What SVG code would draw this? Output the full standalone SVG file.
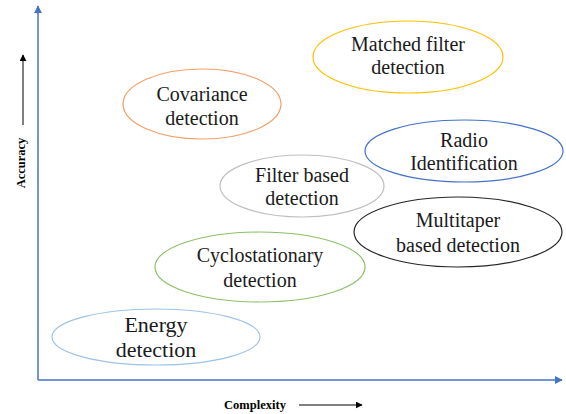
<svg xmlns="http://www.w3.org/2000/svg" width="566" height="414" viewBox="0 0 566 414">
<style>
.n{fill:#fff;stroke-width:1.2}
.t{font-family:"Liberation Serif","Times New Roman",serif;font-size:20px;fill:#1a1a1a;text-anchor:middle}
.ax{font-family:"Liberation Serif","Times New Roman",serif;font-size:12.5px;font-weight:bold;fill:#000}
</style>
<defs>
<marker id="ab" viewBox="0 0 10 10" refX="9" refY="5" markerWidth="8" markerHeight="8" markerUnits="userSpaceOnUse" orient="auto"><path d="M0,0 L10,5 L0,10 z" fill="#4472C4"/></marker>
<marker id="ak" viewBox="0 0 10 10" refX="9" refY="5" markerWidth="7" markerHeight="7" markerUnits="userSpaceOnUse" orient="auto"><path d="M0,0 L10,5 L0,10 z" fill="#000"/></marker>
</defs>
<rect width="566" height="414" fill="#fff"/>
<g id="connectors">
<path d="M38,380 L38,6" stroke="#4472C4" stroke-width="1.5" fill="none" marker-end="url(#ab)"/>
<path d="M38,380 L562,380" stroke="#4472C4" stroke-width="1.5" fill="none" marker-end="url(#ab)"/>
<path d="M23,125 L23,55" stroke="#000" stroke-width="1" fill="none" marker-end="url(#ak)"/>
<path d="M299,405 L362,405" stroke="#000" stroke-width="1" fill="none" marker-end="url(#ak)"/>
</g>
<g id="axis-labels">
<text class="ax" transform="translate(25,163) rotate(-90)" text-anchor="middle">Accuracy</text>
<text class="ax" x="255" y="409" text-anchor="middle">Complexity</text>
</g>
<g id="energy">
<ellipse class="n" cx="156" cy="337" rx="104" ry="28" stroke="#9DC3E6"/>
<text class="t" style="font-size:22px" x="156" y="332">Energy</text>
<text class="t" style="font-size:22px" x="156" y="357">detection</text>
</g>
<g id="cyclostationary">
<ellipse class="n" cx="260" cy="267" rx="105" ry="35" stroke="#8CC168"/>
<text class="t" x="260" y="262">Cyclostationary</text>
<text class="t" x="260" y="287">detection</text>
</g>
<g id="filter-based">
<ellipse class="n" cx="302" cy="186" rx="82" ry="31" stroke="#BFBFBF"/>
<text class="t" x="302" y="182">Filter based</text>
<text class="t" x="302" y="205">detection</text>
</g>
<g id="multitaper">
<ellipse class="n" cx="458" cy="232" rx="104" ry="35" stroke="#262626"/>
<text class="t" x="458" y="227">Multitaper</text>
<text class="t" x="458" y="252">based detection</text>
</g>
<g id="radio">
<ellipse class="n" cx="464" cy="151" rx="99" ry="31" stroke="#4472C4"/>
<text class="t" x="464" y="147">Radio</text>
<text class="t" x="464" y="170">Identification</text>
</g>
<g id="covariance">
<ellipse class="n" cx="202" cy="104" rx="79" ry="35" stroke="#F4A06A"/>
<text class="t" x="202" y="101">Covariance</text>
<text class="t" x="202" y="125">detection</text>
</g>
<g id="matched-filter">
<ellipse class="n" cx="408" cy="57" rx="95" ry="36" stroke="#FFC000"/>
<text class="t" x="408" y="51">Matched filter</text>
<text class="t" x="408" y="74">detection</text>
</g>
</svg>
